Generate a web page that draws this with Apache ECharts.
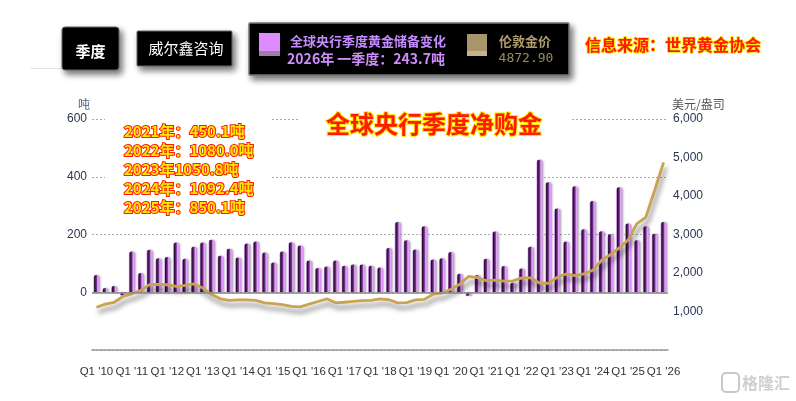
<!DOCTYPE html>
<html>
<head>
<meta charset="utf-8">
<script src="https://cdn.jsdelivr.net/npm/echarts@6/dist/echarts.min.js"></script>
<style>
  html, body { margin: 0; padding: 0; background: #fff; }
  #chart { width: 796px; height: 401px; }
</style>
</head>
<body>
<div id="chart"></div>
<script>
// 季度标签 Q1 '10 ... Q1 '26
const years = ['10','11','12','13','14','15','16','17','18','19','20','21','22','23','24','25']
const quarters = []
years.forEach(y => { for (let q = 1; q <= 4; q++) quarters.push('Q' + q + " '" + y) })
quarters.push("Q1 '26")

// 全球央行季度净购金（吨）
const cbBuying = [
  60, 15, 22, -10, 141, 67, 147, 118, 122, 172, 116, 158, 172, 182, 126, 151,
  120, 169, 176, 138, 103, 141, 173, 162, 110, 84, 89, 110, 92, 96, 96, 92,
  86, 153, 243, 180, 148, 229, 113, 118, 139, 64, -12, 60, 116, 210, 91, 33,
  82, 158, 459, 381, 290, 176, 367, 218, 316, 211, 201, 364, 238, 180, 229, 203,
  243.7
]

// 伦敦金价（美元/盎司）
const goldPrice = [
  1110, 1190, 1240, 1390, 1460, 1550, 1700, 1705, 1695, 1650, 1680, 1720, 1610, 1440, 1330, 1290,
  1300, 1300, 1290, 1222, 1205, 1180, 1135, 1120, 1190, 1260, 1330, 1225, 1240, 1265, 1280, 1290,
  1330, 1305, 1225, 1230, 1300, 1315, 1450, 1480, 1580, 1710, 1910, 1880, 1800, 1815, 1790, 1795,
  1875, 1875, 1740, 1730, 1890, 1975, 1930, 1975, 2070, 2330, 2475, 2650, 2860, 3285, 3450, 4150,
  4872.9
]

// 年度合计注释
const notes = [
  '2021年：450.1吨',
  '2022年：1080.0吨',
  '2023年1050.8吨',
  '2024年：1092.4吨',
  '2025年：850.1吨'
]

const cjk = '"Noto Sans CJK SC", sans-serif'

const chart = echarts.init(document.getElementById('chart'))

const barColor = new echarts.graphic.LinearGradient(0, 0, 1, 0, [
  { offset: 0, color: '#e3a0ff' },
  { offset: 0.2, color: '#2a0a32' },
  { offset: 0.5, color: '#6b2f80' },
  { offset: 0.72, color: '#e6a8ff' },
  { offset: 1, color: '#d58af2' }
])

const boxShadow = { shadowBlur: 6, shadowOffsetX: 3, shadowOffsetY: 4, shadowColor: 'rgba(0,0,0,0.55)' }

const option = {
  animation: false,
  grid: { left: 92, right: 128, top: 119, bottom: 51 },
  xAxis: {
    type: 'category',
    data: quarters,
    axisLine: { onZero: false, lineStyle: { color: '#999', width: 1.5 } },
    axisTick: { show: false },
    axisLabel: {
      interval: 3,
      margin: 16,
      color: '#333',
      fontSize: 11.5,
      fontFamily: '"Liberation Sans", Arial, sans-serif'
    }
  },
  yAxis: [
    {
      type: 'value',
      min: -200,
      max: 600,
      interval: 200,
      name: '吨',
      nameGap: 9,
      nameTextStyle: { color: '#4a6080', fontSize: 12, fontFamily: cjk, align: 'right', padding: [0, 2, 0, 0] },
      axisLine: { show: false },
      axisTick: { show: false },
      axisLabel: {
        color: '#2c3550',
        fontSize: 12,
        margin: 5,
        fontFamily: '"Liberation Sans", Arial, sans-serif',
        formatter: v => (v < 0 ? '' : v)
      },
      splitLine: { lineStyle: { color: '#aaa', type: [2, 2] } }
    },
    {
      type: 'value',
      min: 0,
      max: 6000,
      interval: 1000,
      name: '美元/盎司',
      nameGap: 9,
      nameTextStyle: { color: '#555', fontSize: 12, fontFamily: cjk, align: 'left', padding: [0, 0, 0, 4] },
      axisLine: { show: false },
      axisTick: { show: false },
      axisLabel: {
        color: '#2c3550',
        fontSize: 12,
        margin: 5,
        fontFamily: '"Liberation Sans", Arial, sans-serif',
        formatter: v => (v === 0 ? '' : v.toLocaleString('en-US'))
      },
      splitLine: { show: false }
    }
  ],
  series: [
    {
      name: '全球央行季度黄金储备变化',
      type: 'bar',
      data: cbBuying,
      barWidth: 6,
      itemStyle: {
        color: barColor,
        borderRadius: [3, 3, 0, 0],
        shadowBlur: 2,
        shadowOffsetX: 1,
        shadowColor: 'rgba(0,0,0,0.3)'
      },
      markLine: {
        silent: true,
        symbol: 'none',
        label: { show: false },
        lineStyle: { color: '#888', width: 1.5, type: 'solid' },
        data: [{ yAxis: 0 }]
      }
    },
    {
      name: '伦敦金价',
      type: 'line',
      yAxisIndex: 1,
      data: goldPrice,
      showSymbol: false,
      symbol: 'none',
      z: 3,
      lineStyle: {
        color: '#c9a352',
        width: 2.8,
        shadowColor: 'rgba(0,0,0,0.5)',
        shadowBlur: 5,
        shadowOffsetX: 2,
        shadowOffsetY: 5
      }
    }
  ],
  graphic: [
    // 左上淡线
    { type: 'rect', shape: { x: 30, y: 68, width: 32, height: 1 }, style: { fill: '#e4e4e4' }, z: 1 },
    // 季度 按钮
    { type: 'rect', shape: { x: 62, y: 27, width: 57, height: 43, r: 3 }, style: Object.assign({ fill: '#000', stroke: '#666', lineWidth: 1 }, boxShadow), z: 5 },
    { type: 'text', x: 90.5, y: 51, style: { text: '季度', fill: '#fff', font: 'bold 15px ' + cjk, align: 'center', verticalAlign: 'middle' }, z: 6 },
    // 威尔鑫咨询
    { type: 'rect', shape: { x: 137, y: 31, width: 95, height: 35, r: 1 }, style: Object.assign({ fill: '#000', stroke: '#666', lineWidth: 1 }, boxShadow), z: 5 },
    { type: 'text', x: 186, y: 48, style: { text: '威尔鑫咨询', fill: '#fff', font: '15px ' + cjk, align: 'center', verticalAlign: 'middle' }, z: 6 },
    // 图例框
    { type: 'rect', shape: { x: 249, y: 23, width: 320, height: 52, r: 1 }, style: Object.assign({ fill: '#000', stroke: '#777', lineWidth: 1.5 }, boxShadow), z: 5 },
    { type: 'rect', shape: { x: 259, y: 33, width: 21, height: 18 }, style: { fill: '#dd8cff' }, z: 6 },
    { type: 'rect', shape: { x: 259, y: 51, width: 21, height: 5 }, style: { fill: '#a07ea8' }, z: 6 },
    { type: 'text', x: 368, y: 41, style: { text: '全球央行季度黄金储备变化', fill: '#c48cff', font: 'bold 13px ' + cjk, align: 'center', verticalAlign: 'middle' }, z: 6 },
    { type: 'text', x: 366, y: 59, style: { text: '2026年 一季度：243.7吨', fill: '#cf8cff', font: 'bold 14px ' + cjk, align: 'center', verticalAlign: 'middle' }, z: 6 },
    { type: 'rect', shape: { x: 467, y: 34, width: 20, height: 17 }, style: { fill: '#a8956a' }, z: 6 },
    { type: 'rect', shape: { x: 467, y: 51, width: 20, height: 5 }, style: { fill: '#c7b48a' }, z: 6 },
    { type: 'text', x: 525, y: 41, style: { text: '伦敦金价', fill: '#ad9c6c', font: 'bold 13px ' + cjk, align: 'center', verticalAlign: 'middle' }, z: 6 },
    { type: 'text', x: 526, y: 59, style: { text: '4872.90', fill: '#9a8a62', font: '13px "DejaVu Sans Mono", monospace', align: 'center', verticalAlign: 'middle' }, z: 6 },
    // 信息来源
    { type: 'text', x: 673, y: 45, style: { text: '信息来源：世界黄金协会', fill: '#ff1a00', stroke: '#ffe600', lineWidth: 1.5, font: 'bold 16px ' + cjk, align: 'center', verticalAlign: 'middle', shadowBlur: 3, shadowOffsetX: 2, shadowOffsetY: 2, shadowColor: 'rgba(0,0,0,0.35)' }, z: 6 },
    // 注释与标题的白底
    { type: 'rect', shape: { x: 105, y: 112, width: 167, height: 110 }, style: { fill: '#fff' }, z: 1 },
    { type: 'rect', shape: { x: 298, y: 105, width: 272, height: 40 }, style: { fill: '#fff' }, z: 1 },
    // 图表标题
    { type: 'text', x: 434, y: 124, style: { text: '全球央行季度净购金', fill: '#ff1a00', stroke: '#ffe600', lineWidth: 2, font: 'bold 24px ' + cjk, align: 'center', verticalAlign: 'middle', shadowBlur: 4, shadowOffsetX: 3, shadowOffsetY: 3, shadowColor: 'rgba(0,0,0,0.35)' }, z: 10 },
    // 水印
    { type: 'rect', shape: { x: 722, y: 373, width: 17, height: 19, r: 4 }, style: { fill: 'none', stroke: '#c8c8c8', lineWidth: 2 }, z: 6 },
    { type: 'text', x: 742, y: 383, style: { text: '格隆汇', fill: '#cfcfcf', font: 'bold 16px ' + cjk, verticalAlign: 'middle' }, z: 6 }
  ].concat(notes.map((t, i) => ({
    type: 'text',
    x: 124,
    y: 131 + i * 19,
    style: {
      text: t,
      fill: '#ffe800',
      stroke: '#ff1a00',
      lineWidth: 2,
      font: 'bold 15px ' + cjk,
      verticalAlign: 'middle',
      shadowBlur: 4,
      shadowOffsetX: 3,
      shadowOffsetY: 3,
      shadowColor: 'rgba(0,0,0,0.35)'
    },
    z: 10
  })))
}

chart.setOption(option)
</script>
</body>
</html>
